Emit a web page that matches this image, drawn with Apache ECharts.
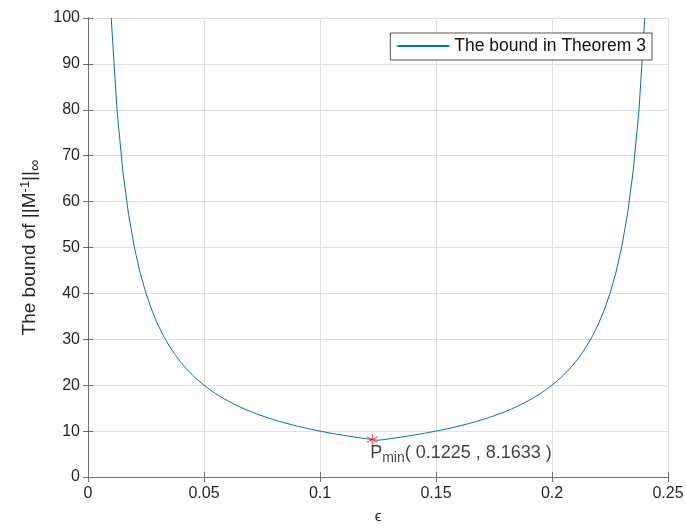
<!DOCTYPE html>
<html>
<head>
<meta charset="utf-8">
<script src="https://cdn.jsdelivr.net/npm/echarts@6/dist/echarts.min.js"></script>
<style>
  html, body { margin: 0; padding: 0; background: #fff; }
  #chart { width: 686px; height: 528px; }
</style>
</head>
<body>
<div id="chart"></div>
<script>
// Valeurs (pas de 0.0025)
const epsValues = [
  0.01, 0.0125, 0.015, 0.0175, 0.02, 0.0225, 0.025, 0.0275, 0.03, 0.0325,
  0.035, 0.0375, 0.04, 0.0425, 0.045, 0.0475, 0.05, 0.0525, 0.055, 0.0575,
  0.06, 0.0625, 0.065, 0.0675, 0.07, 0.0725, 0.075, 0.0775, 0.08, 0.0825,
  0.085, 0.0875, 0.09, 0.0925, 0.095, 0.0975, 0.1, 0.1025, 0.105, 0.1075,
  0.11, 0.1125, 0.115, 0.1175, 0.12, 0.1225, 0.125, 0.1275, 0.13, 0.1325,
  0.135, 0.1375, 0.14, 0.1425, 0.145, 0.1475, 0.15, 0.1525, 0.155, 0.1575,
  0.16, 0.1625, 0.165, 0.1675, 0.17, 0.1725, 0.175, 0.1775, 0.18, 0.1825,
  0.185, 0.1875, 0.19, 0.1925, 0.195, 0.1975, 0.2, 0.2025, 0.205, 0.2075,
  0.21, 0.2125, 0.215, 0.2175, 0.22, 0.2225, 0.225, 0.2275, 0.23, 0.2325,
  0.235, 0.2375, 0.24,
];
const boundValues = [
  100, 80, 66.67, 57.14, 50, 44.44, 40, 36.36, 33.33, 30.77,
  28.57, 26.67, 25, 23.53, 22.22, 21.05, 20, 19.05, 18.18, 17.39,
  16.67, 16, 15.38, 14.81, 14.29, 13.79, 13.33, 12.9, 12.5, 12.12,
  11.76, 11.43, 11.11, 10.81, 10.53, 10.26, 10, 9.76, 9.52, 9.3,
  9.09, 8.89, 8.7, 8.51, 8.33, 8.16, 8.0, 8.16, 8.33, 8.51,
  8.7, 8.89, 9.09, 9.3, 9.52, 9.76, 10, 10.26, 10.53, 10.81,
  11.11, 11.43, 11.76, 12.12, 12.5, 12.9, 13.33, 13.79, 14.29, 14.81,
  15.38, 16, 16.67, 17.39, 18.18, 19.05, 20, 21.05, 22.22, 23.53,
  25, 26.67, 28.57, 30.77, 33.33, 36.36, 40, 44.44, 50, 57.14,
  66.67, 80, 100,
];
const minPoint = [0.1225, 8.1633];
const seriesName = 'The bound in Theorem 3';

const FONT = 'Liberation Sans, Arial, Helvetica, sans-serif';
const AXIS_COLOR = '#707070';
const TEXT_COLOR = '#262626';

const chart = echarts.init(document.getElementById('chart'), null, { renderer: 'canvas' });

const baseAxis = {
  axisLine: { show: true, lineStyle: { color: AXIS_COLOR, width: 1 } },
  axisTick: { show: true, inside: true, length: 5, lineStyle: { color: AXIS_COLOR } },
  splitLine: { show: false },
  axisLabel: { show: false },
};

chart.setOption({
  backgroundColor: '#fff',
  animation: false,
  textStyle: { fontFamily: FONT },
  grid: { left: 88, right: 18, top: 18, bottom: 51, outerBoundsMode: 'none', containLabel: false },
  legend: {
    data: [seriesName],
    right: 34,
    top: 33,
    padding: [4, 6, 5, 6],
    itemWidth: 52,
    itemHeight: 14,
    itemGap: 6,
    itemStyle: { opacity: 0 },
    backgroundColor: '#fff',
    borderColor: '#262626',
    borderWidth: 0.8,
    borderRadius: 0,
    textStyle: { fontSize: 17.5, color: '#111', fontFamily: FONT },
  },
  xAxis: [
    {
      type: 'value',
      min: 0,
      max: 0.25,
      interval: 0.05,
      position: 'bottom',
      name: 'ϵ',
      nameLocation: 'middle',
      nameGap: 32,
      nameMoveOverlap: false,
      nameTextStyle: { fontSize: 15, color: TEXT_COLOR, fontFamily: FONT },
      axisLine: { show: true, lineStyle: { color: AXIS_COLOR, width: 1 } },
      axisTick: { show: true, inside: true, length: 5, lineStyle: { color: AXIS_COLOR } },
      splitLine: { show: true, lineStyle: { color: '#e0e0e0', width: 1 } },
      axisLabel: { fontSize: 16, color: TEXT_COLOR, margin: 9, fontFamily: FONT },
    },
    { ...baseAxis, type: 'value', min: 0, max: 0.25, interval: 0.05, position: 'top' },
  ],
  yAxis: [
    {
      type: 'value',
      min: 0,
      max: 100,
      interval: 10,
      position: 'left',
      name: '{t|The bound of ||M}{sup|-1}{t|||}{sub|∞}',
      nameLocation: 'middle',
      nameRotate: 90,
      nameGap: 44,
      nameMoveOverlap: false,
      nameTextStyle: {
        color: TEXT_COLOR,
        fontFamily: FONT,
        rich: {
          t: { fontSize: 19, color: TEXT_COLOR, fontFamily: FONT, verticalAlign: 'middle' },
          sup: { fontSize: 13, color: TEXT_COLOR, fontFamily: FONT, padding: [0, 0, 10, 0] },
          sub: { fontSize: 16, color: TEXT_COLOR, fontFamily: FONT, padding: [12, 0, 0, 0] },
        },
      },
      axisLine: { show: true, lineStyle: { color: AXIS_COLOR, width: 1 } },
      axisTick: { show: true, inside: true, length: 5, lineStyle: { color: AXIS_COLOR } },
      splitLine: { show: true, lineStyle: { color: '#e0e0e0', width: 1 } },
      axisLabel: { fontSize: 16, color: TEXT_COLOR, margin: 8, fontFamily: FONT },
    },
    { ...baseAxis, type: 'value', min: 0, max: 100, interval: 10, position: 'right' },
  ],
  series: [
    {
      name: seriesName,
      type: 'line',
      symbol: 'none',
      showSymbol: false,
      clip: true,
      data: epsValues.map((e, i) => [e, boundValues[i]]),
      lineStyle: { color: '#0072BD', width: 1 },
      itemStyle: { color: '#0072BD' },
      z: 3,
    },
    {
      name: 'Pmin',
      type: 'scatter',
      symbol: 'path://M0,-5L0,5M-4.33,-2.5L4.33,2.5M-4.33,2.5L4.33,-2.5',
      symbolSize: 11,
      itemStyle: { color: 'none', borderColor: '#ff0000', borderWidth: 1 },
      data: [minPoint],
      z: 4,
      label: {
        show: true,
        position: [6, 9],
        formatter: '{p|P}{s|min}{p|( ' + minPoint[0] + ' , ' + minPoint[1] + ' )}',
        rich: {
          p: { fontSize: 18, color: '#111', fontFamily: FONT },
          s: { fontSize: 14, color: '#111', fontFamily: FONT, padding: [11, 0, 0, 0] },
        },
      },
    },
  ],
});
</script>
</body>
</html>
